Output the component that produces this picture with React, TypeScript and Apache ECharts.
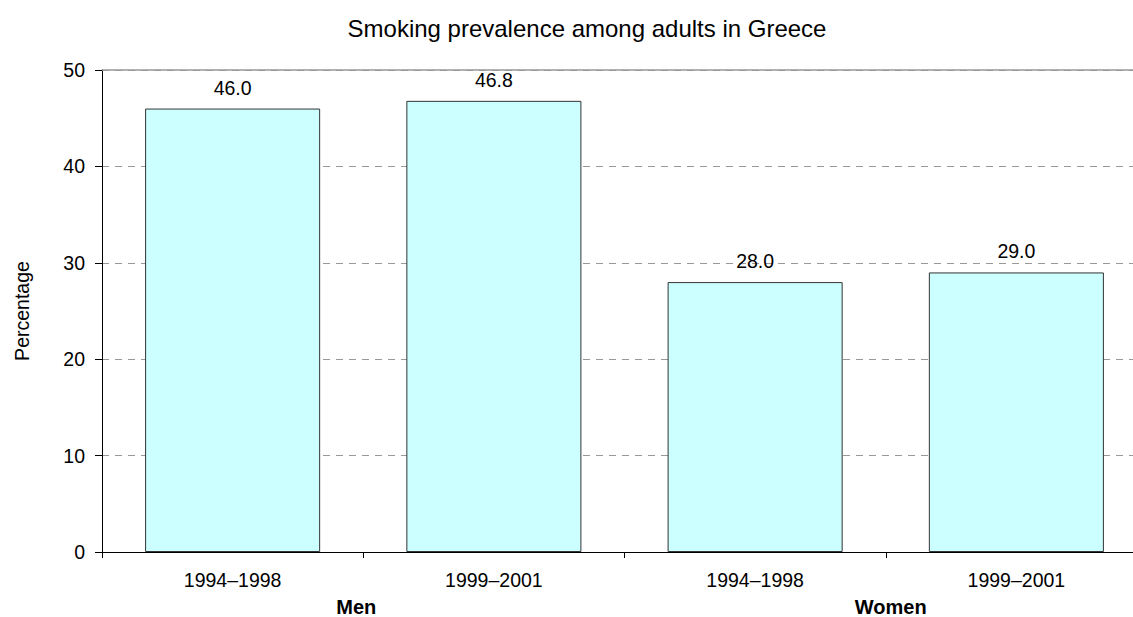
import React, { useEffect, useRef } from "react";
import * as echarts from "echarts";

const periods = ["1994–1998", "1999–2001", "1994–1998", "1999–2001"];
const groups = ["Men", "Women"];
const prevalence = [46.0, 46.8, 28.0, 29.0];
const yTicks = { min: 0, max: 50, interval: 10 };

const FONT = "'Liberation Sans', Arial, sans-serif";

export default function App() {
  const ref = useRef<HTMLDivElement>(null);

  useEffect(() => {
    if (!ref.current) return;
    const chart = echarts.init(ref.current, null, { renderer: "svg" });
    chart.setOption({
      animation: false,
      backgroundColor: "#ffffff",
      textStyle: { fontFamily: FONT, color: "#000" },
      title: {
        text: "Smoking prevalence among adults in Greece",
        left: 582,
        textAlign: "center",
        top: 11,
        textStyle: { fontFamily: FONT, fontSize: 24, fontWeight: "normal", color: "#000" },
      },
      grid: {
        left: 102,
        top: 70,
        width: 1045,
        height: 482,
        containLabel: false,
        outerBoundsMode: "none",
      },
      xAxis: [
        {
          type: "category",
          data: periods,
          position: "bottom",
          axisLine: { show: true, lineStyle: { color: "#000", width: 1 } },
          axisTick: { show: true, alignWithLabel: false, length: 6, lineStyle: { color: "#000" } },
          axisLabel: { fontFamily: FONT, fontSize: 19.5, color: "#000", margin: 18 },
          splitLine: { show: false },
        },
        {
          // group names under each pair of periods
          type: "category",
          data: groups,
          position: "bottom",
          axisLine: { show: false },
          axisTick: { show: false },
          axisLabel: {
            margin: 45,
            formatter: (v: string) => (v === groups[0] ? `{l|${v}}` : `{r|${v}}`),
            rich: {
              l: { fontFamily: FONT, fontSize: 20, fontWeight: "bold", color: "#000", padding: [0, 14, 0, 0] },
              r: { fontFamily: FONT, fontSize: 20, fontWeight: "bold", color: "#000", padding: [0, 0, 0, 10] },
            },
          },
          splitLine: { show: false },
        },
        {
          type: "category",
          data: periods,
          position: "top",
          axisLine: { show: true, lineStyle: { color: "#999", width: 1.5 } },
          axisTick: { show: false },
          axisLabel: { show: false },
          splitLine: { show: false },
        },
      ],
      yAxis: {
        type: "value",
        min: yTicks.min,
        max: yTicks.max,
        interval: yTicks.interval,
        name: "Percentage",
        nameLocation: "middle",
        nameRotate: 90,
        nameGap: 70,
        nameTextStyle: { fontFamily: FONT, fontSize: 19.5, color: "#000" },
        axisLine: { show: true, lineStyle: { color: "#000", width: 1 } },
        axisTick: { show: true, inside: false, length: 7, lineStyle: { color: "#000" } },
        axisLabel: { fontFamily: FONT, fontSize: 19.5, color: "#000", margin: 17 },
        splitLine: { show: true, lineStyle: { color: "#999", type: [7, 6], width: 1 } },
      },
      series: [
        {
          type: "bar",
          xAxisIndex: 0,
          data: prevalence,
          barCategoryGap: "33%",
          itemStyle: { color: "#CCFFFF", borderColor: "#333", borderWidth: 1 },
          label: {
            show: true,
            position: "top",
            distance: 11,
            fontFamily: FONT,
            fontSize: 19.5,
            color: "#000",
            formatter: (p: any) => Number(p.value).toFixed(1),
          },
        },
      ],
    });
    return () => chart.dispose();
  }, []);

  return (
    <div
      ref={ref}
      style={{ position: "fixed", left: 0, top: 0, width: 1133, height: 617, background: "#fff" }}
    />
  );
}
